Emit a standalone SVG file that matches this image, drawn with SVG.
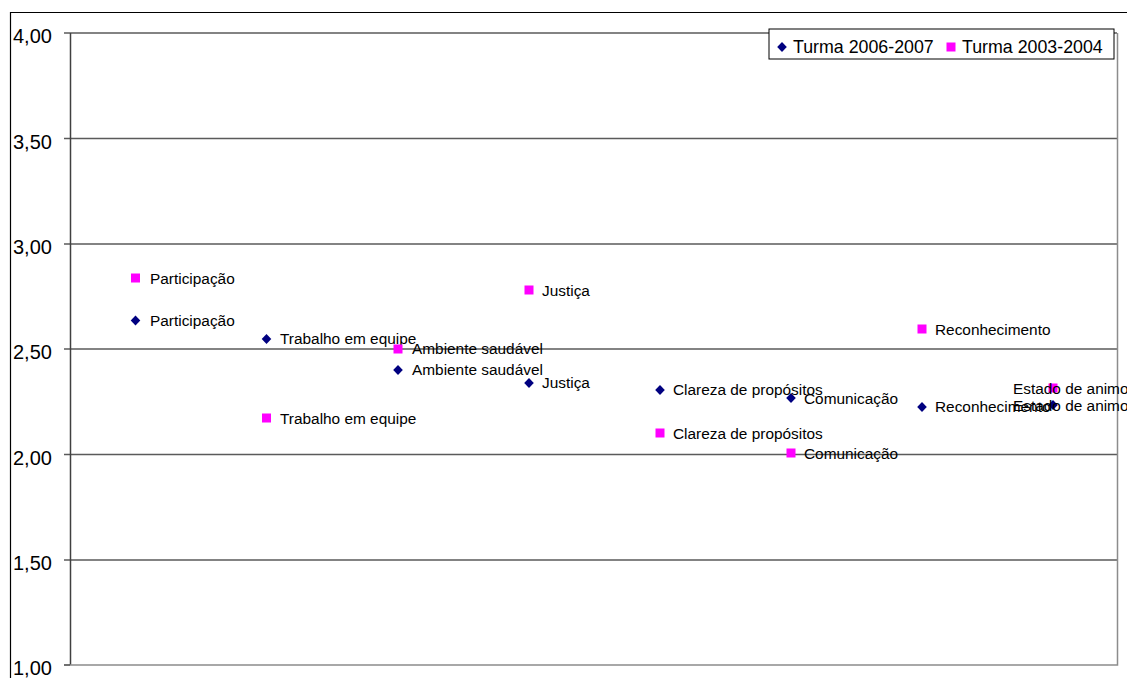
<svg xmlns="http://www.w3.org/2000/svg" width="1127" height="678" viewBox="0 0 1127 678">
<defs>
<style>
.grid{stroke:#5a5a5a;stroke-width:1.3;fill:none}
.axis{stroke:#404040;stroke-width:1.5;fill:none}
.frame{stroke:#8c8c8c;stroke-width:1.5;fill:none}
.ytick{font-family:"Liberation Sans",Arial,sans-serif;font-size:20px;fill:#000}
.lbl{font-family:"Liberation Sans",Arial,sans-serif;font-size:15.4px;fill:#000}
.leg{font-family:"Liberation Sans",Arial,sans-serif;font-size:17.8px;fill:#000}
.dia{fill:#000080}
.sq{fill:#FF00FF}
</style>
<path id="d" d="M0,-5 L4.8,0 L0,5 L-4.8,0 Z"/>
<rect id="s" x="-4.5" y="-4.5" width="9" height="9"/>
</defs>
<rect width="1127" height="678" fill="#fff"/>
<g id="outer-frame">
<path d="M10.5,678 L10.5,12.5 L1127,12.5" stroke="#000" stroke-width="1.2" fill="none"/>
</g>
<g id="axes">
<line class="grid" x1="64" y1="33" x2="1117" y2="33"/>
<line class="grid" x1="64" y1="138.5" x2="1117" y2="138.5"/>
<line class="grid" x1="64" y1="244" x2="1117" y2="244"/>
<line class="grid" x1="64" y1="349" x2="1117" y2="349"/>
<line class="grid" x1="64" y1="454.5" x2="1117" y2="454.5"/>
<line class="grid" x1="64" y1="560" x2="1117" y2="560"/>
<line class="axis" x1="64" y1="665" x2="70" y2="665"/>
<line class="axis" x1="70.5" y1="33" x2="70.5" y2="665"/>
<path class="frame" d="M70,665 L1117.5,665 L1117.5,33"/>
<text class="ytick" x="13" y="43">4,00</text>
<text class="ytick" x="13" y="149">3,50</text>
<text class="ytick" x="13" y="254">3,00</text>
<text class="ytick" x="13" y="359">2,50</text>
<text class="ytick" x="13" y="465">2,00</text>
<text class="ytick" x="13" y="570">1,50</text>
<text class="ytick" x="13" y="675">1,00</text>
</g>
<g id="series-2006-2007">
<use href="#d" class="dia" x="135.5" y="320.5"/>
<use href="#d" class="dia" x="266.5" y="339"/>
<use href="#d" class="dia" x="398" y="370"/>
<use href="#d" class="dia" x="529" y="383"/>
<use href="#d" class="dia" x="660" y="390"/>
<use href="#d" class="dia" x="791" y="398"/>
<use href="#d" class="dia" x="922" y="407"/>
<use href="#d" class="dia" x="1053" y="405"/>
<text class="lbl" x="150" y="326">Participação</text>
<text class="lbl" x="280" y="344">Trabalho em equipe</text>
<text class="lbl" x="412" y="375">Ambiente saudável</text>
<text class="lbl" x="542" y="388">Justiça</text>
<text class="lbl" x="673" y="395">Clareza de propósitos</text>
<text class="lbl" x="804" y="404">Comunicação</text>
<text class="lbl" x="935" y="412">Reconhecimento</text>
<text class="lbl" x="1013" y="411">Estado de animo</text>
</g>
<g id="series-2003-2004">
<use href="#s" class="sq" x="135.5" y="278"/>
<use href="#s" class="sq" x="266.5" y="418"/>
<use href="#s" class="sq" x="398" y="349"/>
<use href="#s" class="sq" x="529" y="290"/>
<use href="#s" class="sq" x="660" y="433"/>
<use href="#s" class="sq" x="791" y="453"/>
<use href="#s" class="sq" x="922" y="329"/>
<use href="#s" class="sq" x="1053" y="388"/>
<text class="lbl" x="150" y="284">Participação</text>
<text class="lbl" x="280" y="424">Trabalho em equipe</text>
<text class="lbl" x="412" y="354">Ambiente saudável</text>
<text class="lbl" x="542" y="296">Justiça</text>
<text class="lbl" x="673" y="439">Clareza de propósitos</text>
<text class="lbl" x="804" y="459">Comunicação</text>
<text class="lbl" x="935" y="335">Reconhecimento</text>
<text class="lbl" x="1013" y="394">Estado de animo</text>
</g>
<g id="legend">
<rect x="769" y="29" width="345" height="30" fill="#fff" stroke="#000" stroke-width="1"/>
<use href="#d" class="dia" x="782" y="47"/>
<text class="leg" x="793" y="53">Turma 2006-2007</text>
<use href="#s" class="sq" x="951" y="47"/>
<text class="leg" x="962" y="53">Turma 2003-2004</text>
</g>
</svg>
